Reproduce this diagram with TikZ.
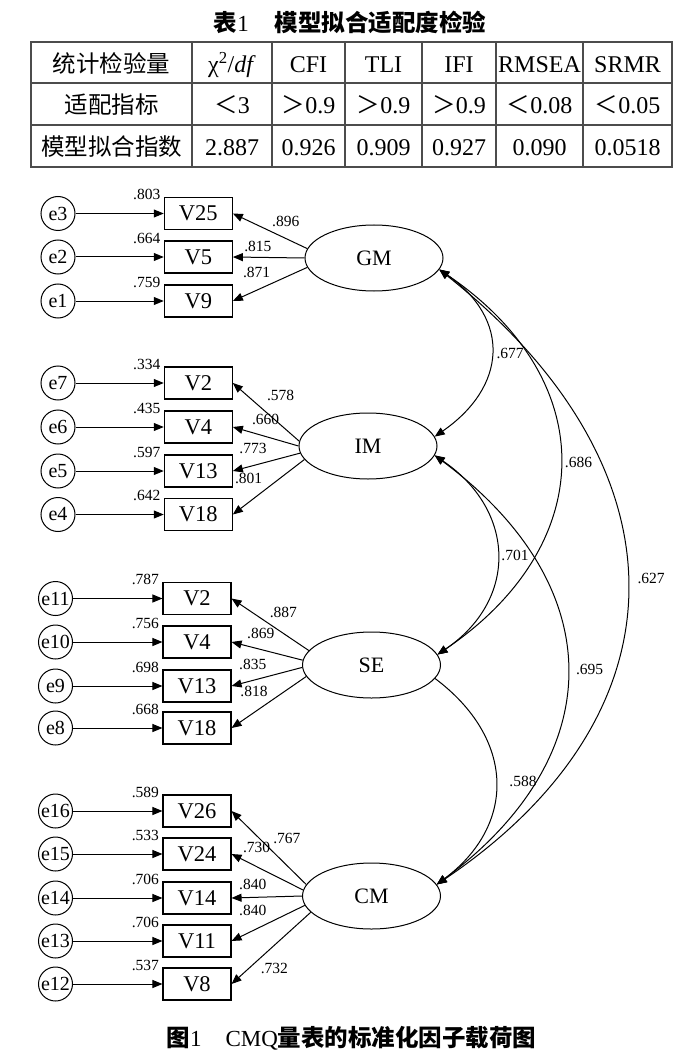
\documentclass[tikz,border=0pt]{standalone}
\usepackage{fontspec}
\setmainfont{Liberation Serif}
\newfontfamily\cjk{Noto Sans CJK SC}
\usetikzlibrary{arrows.meta,shapes.geometric}
\newcommand{\cjktext}[1]{{\cjk\fontsize{23.5}{23.5}\selectfont #1}}
\tikzset{
  tabline/.style={draw=black!70, line width=1.2pt},
  tabcell/.style={inner sep=0pt, text height=19pt, text depth=0pt, font=\fontsize{24}{24}\selectfont},
  obs/.style={draw, line width=1.1pt, minimum width=68pt, minimum height=32pt, inner sep=0pt, font=\fontsize{22.5}{22.5}\selectfont},
  err/.style={draw, circle, line width=1pt, minimum size=34pt, inner sep=0pt, font=\fontsize{20}{20}\selectfont},
  lat/.style={draw, ellipse, line width=1pt, minimum width=138pt, minimum height=66pt, inner sep=0pt, font=\fontsize{22}{22}\selectfont},
  lbl/.style={inner sep=0pt, font=\fontsize{15.5}{15.5}\selectfont},
  arr/.style={-{Triangle[length=10pt,width=8pt]}, line width=1pt},
  cov/.style={{Triangle[length=10pt,width=8pt]}-{Triangle[length=10pt,width=8pt]}, line width=1pt},
}
\begin{document}
\begin{tikzpicture}[x=1pt,y=-1pt]
\useasboundingbox (0,0) rectangle (700,1064);

\node (title) at (350,22) {\fontsize{23}{23}\selectfont{\cjk\bfseries\fontsize{23.5}{23.5}\selectfont 表}1\hspace{26pt}{\cjk\bfseries\fontsize{23.5}{23.5}\selectfont 模型拟合适配度检验}};

\draw[tabline] (31,42) rectangle (672,167);
\foreach \y in {83,125} \draw[tabline] (31,\y) -- (672,\y);
\foreach \x in {192,272,345,422,496,583} \draw[tabline] (\x,42) -- (\x,167);
\foreach \c/\x/\a/\b/\m in {1/111.5/{\cjktext{统计检验量}}/{\cjktext{适配指标}}/{\cjktext{模型拟合指数}},
    2/232/{χ\textsuperscript{2}/\textit{df}}/{\cjktext{＜}3}/{2.887},
    3/308.5/{CFI}/{\cjktext{＞}0.9}/{0.926},
    4/383.5/{TLI}/{\cjktext{＞}0.9}/{0.909},
    5/459/{IFI}/{\cjktext{＞}0.9}/{0.927},
    6/539.5/{RMSEA}/{\cjktext{＜}0.08}/{0.090},
    7/627.5/{SRMR}/{\cjktext{＜}0.05}/{0.0518}}{
  \node[tabcell] (h\c) at (\x,63) {\a};
  \node[tabcell] (f\c) at (\x,104) {\b};
  \node[tabcell] (m\c) at (\x,146) {\m};
}

\node[lat] (GM) at (374,258) {GM};
\node[lat] (IM) at (368,446) {IM};
\node[lat] (SE) at (371.5,665) {SE};
\node[lat] (CM) at (371.5,896) {CM};

\foreach \e/\v/\ex/\bx/\y/\w in {3/V25/58/198.3/213.5/.803, 2/V5/58/198.3/257/.664, 1/V9/58/198.3/301/.759,
    7/V2/58/198.3/383/.334, 6/V4/58/198.3/427/.435, 5/V13/58/198.3/471/.597, 4/V18/58/198.3/514.5/.642,
    11/V2/55.5/197/598.5/.787, 10/V4/55.5/197/642/.756, 9/V13/55.5/197/686/.698, 8/V18/55.5/197/728/.668,
    16/V26/55.5/197/811/.589, 15/V24/55.5/197/854/.533, 14/V14/55.5/197/898/.706, 13/V11/55.5/197/941/.706, 12/V8/55.5/197/984/.537}{
  \node[err] (e\e) at (\ex,\y) {e\e};
  \node[obs] (b\e) at (\bx,\y) {\v};
  \draw[arr] (e\e) -- (b\e) node[lbl, at end, anchor=south east, xshift=-3pt, yshift=13pt] (w\e) {\w};
}

\foreach \f/\e/\a/\p/\d/\t in {GM/3/172/.29/17/.896, GM/2/180/.65/11/.815, GM/1/188/.68/18/.871,
    IM/7/176/.28/29/.578, IM/6/180/.50/17.5/.660, IM/5/186/.70/17/.773, IM/4/192/.78/24/.801,
    SE/11/167/.33/20.5/.887, SE/10/176/.59/16.5/.869, SE/9/182/.70/15.5/.835, SE/8/190/.70/21/.818,
    CM/16/170/.26/27/.767, CM/15/175/.65/19.5/.730, CM/14/180/.70/12.5/.840, CM/13/188/.71/20/.840, CM/12/195/.46/-23/.732}
  \draw[arr] (\f.\a) -- node[lbl, pos=\p, yshift=\d pt] (g\e) {\t} (b\e.east);

\draw[cov] (GM.-10) .. controls +(72,50) and +(72,-50) .. node[lbl, pos=.5, right=5pt] (c1) {.677} (IM.8);
\draw[cov] (GM.-10) .. controls +(162,110) and +(162,-110) .. node[lbl, pos=.5, right=4.5pt] (c2) {.686} (SE.9);
\draw[cov] (GM.-10) .. controls +(252,200) and +(252,-170) .. node[lbl, pos=.5, right=10pt, yshift=10pt] (c3) {.627} (CM.10);
\draw[cov] (IM.-8) .. controls +(81,55) and +(81,-55) .. node[lbl, pos=.5, right=4pt] (c4) {.701} (SE.9);
\draw[cov] (IM.-8) .. controls +(175,130) and +(175,-130) .. node[lbl, pos=.5, right=8.5pt] (c5) {.695} (CM.10);
\draw[arr] (SE.-12) .. controls +(80,60) and +(80,-60) .. node[lbl, pos=.5, right=13pt] (c6) {.588} (CM.10);

\node (caption) at (351.5,1038) {\fontsize{23}{23}\selectfont{\cjk\bfseries\fontsize{23.5}{23.5}\selectfont 图}1\hspace{24pt}CMQ{\cjk\bfseries\fontsize{23.5}{23.5}\selectfont 量表的标准化因子载荷图}};
\end{tikzpicture}
\end{document}
